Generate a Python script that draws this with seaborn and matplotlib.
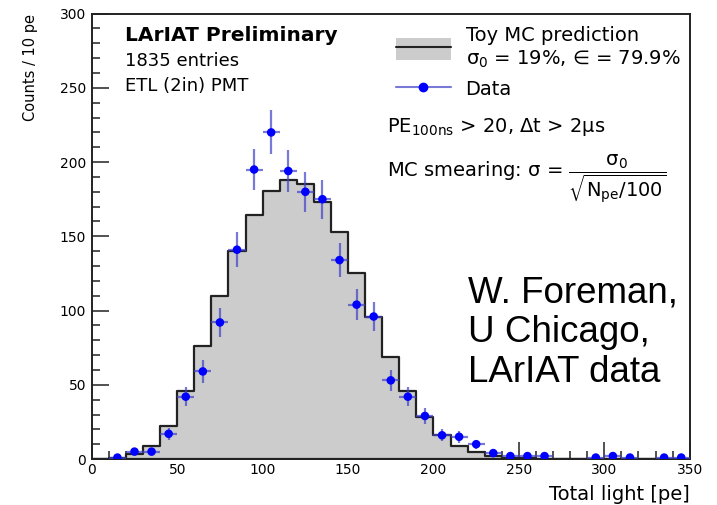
import numpy as np
import matplotlib
matplotlib.use("Agg")
import matplotlib.pyplot as plt
from matplotlib.patches import Patch
from matplotlib.lines import Line2D
import seaborn as sns

# 10 pe bins, 0..350
bin_centers = [5, 15, 25, 35, 45, 55, 65, 75, 85, 95, 105, 115, 125, 135, 145,
               155, 165, 175, 185, 195, 205, 215, 225, 235, 245, 255, 265, 275,
               285, 295, 305, 315, 325, 335, 345]
data_counts = [0, 1, 5, 5, 17, 42, 59, 92, 141, 195, 220, 194, 180, 175, 134,
               104, 96, 53, 42, 29, 16, 15, 10, 4, 2, 2, 2, 0,
               0, 1, 2, 1, 0, 1, 1]
mc_counts = [0, 0.5, 3.4, 8.8, 22.3, 46, 76.4, 110, 140, 164.7, 180.7, 188,
             185.4, 173, 152.6, 125.6, 96, 69, 46, 28.5, 16, 8.8, 4.5, 2.2,
             1.0, 0.5, 0.3, 0.2, 0.1, 0.05, 0, 0, 0, 0, 0]

sns.set_style("ticks")
plt.rcParams["font.family"] = ["DejaVu Sans"]
plt.rcParams["mathtext.default"] = "regular"
plt.rcParams["text.color"] = "black"
plt.rcParams["axes.labelcolor"] = "black"

fig = plt.figure(figsize=(7.17, 5.05), dpi=100)
ax = fig.add_axes([0.128, 0.091, 0.834, 0.882])

sns.histplot(x=bin_centers, weights=mc_counts, bins=35, binrange=(0, 350),
             element="step", fill=True, color="#cccccc", alpha=1,
             edgecolor="#222222", linewidth=1.6, ax=ax, zorder=2)

x = np.array(bin_centers)
y = np.array(data_counts)
keep = y > 0
err_color = (0.25, 0.25, 0.78, 0.7)
ax.errorbar(x[keep], y[keep], xerr=5, yerr=np.sqrt(y[keep]), fmt="none",
            ecolor=err_color, elinewidth=1.6, capsize=0, zorder=3)
sns.scatterplot(x=x[keep], y=y[keep], color="#0000ff", s=38, edgecolor="none",
                ax=ax, zorder=4)

ax.set_xlim(0, 350)
ax.set_ylim(0, 300)
ax.set_xticks(range(0, 351, 50))
ax.set_xticks(range(0, 351, 10), minor=True)
ax.set_yticks(range(0, 301, 50))
ax.set_yticks(range(0, 301, 10), minor=True)
ax.tick_params(which="both", direction="in", color="#222222",
               labelcolor="black", top=False, right=False, labelsize=10)
ax.tick_params(which="major", length=12, width=1.1)
ax.tick_params(which="minor", length=5.5, width=1.1)
ax.tick_params(axis="x", pad=3)
ax.tick_params(axis="y", pad=4)
for sp in ax.spines.values():
    sp.set_visible(True)
    sp.set_linewidth(1.4)
    sp.set_color("#222222")

ax.set_xlabel("Total light [pe]", fontsize=14, loc="right")
ax.xaxis.set_label_coords(1.0, -0.058)
ax.set_ylabel("Counts / 10 pe", fontsize=10.5, loc="top")
ax.yaxis.set_label_coords(-0.09, 1.0)

# top-left labels
ax.text(0.055, 0.952, "LArIAT Preliminary", transform=ax.transAxes,
        fontsize=14.5, fontweight="bold", va="center", ha="left")
ax.text(0.055, 0.894, "1835 entries", transform=ax.transAxes,
        fontsize=13, va="center", ha="left")
ax.text(0.055, 0.838, "ETL (2in) PMT", transform=ax.transAxes,
        fontsize=13, va="center", ha="left")

# legend
mc_handle = (Patch(facecolor="#cccccc", edgecolor="none"),
             Line2D([], [], color="#222222", lw=1.5))
data_handle = Line2D([], [], color=err_color, lw=1.5, marker="o",
                     markerfacecolor="#0000ff", markeredgecolor="#0000ff",
                     markersize=6)
ax.legend([mc_handle, data_handle],
          ["Toy MC prediction\nσ$_0$ = 19%, ∈ = 79.9%", "Data"],
          loc="upper left", bbox_to_anchor=(0.508, 0.972), frameon=False,
          fontsize=14, handlelength=2.85, handleheight=1.4,
          handletextpad=0.75, labelspacing=0.42, borderpad=0, borderaxespad=0)

ax.text(0.493, 0.734, "PE$_{100ns}$ > 20, Δt > 2μs", transform=ax.transAxes,
        fontsize=14, va="baseline", ha="left")
ax.text(0.493, 0.631, r"MC smearing: σ = $\dfrac{σ_0}{\sqrt{N_{pe}/100}}$",
        transform=ax.transAxes, fontsize=14, va="baseline", ha="left")

ax.text(0.629, 0.283, "W. Foreman,\nU Chicago,\nLArIAT data",
        transform=ax.transAxes, fontsize=26.5, family=["Liberation Sans"],
        va="center", ha="left", linespacing=1.17)

fig.savefig("out.png", dpi=100)
